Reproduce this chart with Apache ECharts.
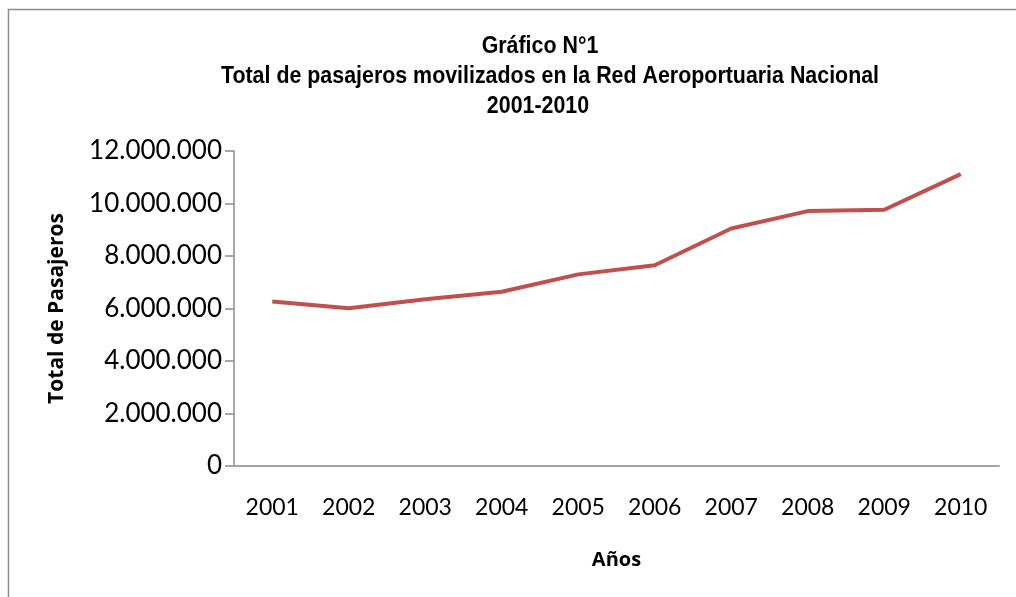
<!DOCTYPE html>
<html>
<head>
<meta charset="utf-8">
<script src="https://cdn.jsdelivr.net/npm/echarts@6/dist/echarts.min.js"></script>
<style>
html,body{margin:0;padding:0;background:#fff;}
#chart{width:1016px;height:597px;}
</style>
</head>
<body>
<div id="chart"></div>
<script>
const categories = ['2001','2002','2003','2004','2005','2006','2007','2008','2009','2010'];
const pasajeros = [6270000, 6010000, 6350000, 6640000, 7300000, 7650000, 9050000, 9710000, 9760000, 11120000];
const yTicks = [0, 2000000, 4000000, 6000000, 8000000, 10000000, 12000000];
const titleLines = ['Gráfico N°1', 'Total de pasajeros movilizados en la Red Aeroportuaria Nacional', '2001-2010'];

const fmt = v => String(v).replace(/\B(?=(\d{3})+(?!\d))/g, '.');
const titleFont = "bold 23px 'Liberation Sans', Arial, sans-serif";
const chart = echarts.init(document.getElementById('chart'));
chart.setOption({
  backgroundColor: '#ffffff',
  animation: false,
  graphic: [{
    type: 'rect', shape: {x: 8.5, y: 9.5, width: 1200, height: 800},
    style: {fill: 'none', stroke: '#8c8c8c', lineWidth: 1.5}, silent: true
  }].concat(titleLines.map((t, i) => ({
    type: 'text', x: [540, 550, 538][i], y: 47 + i * 30, scaleX: 0.93, silent: true,
    style: {text: t, font: titleFont, fill: '#000', textAlign: 'center', textVerticalAlign: 'middle'}
  }))),
  grid: {left: 234, right: 17, top: 151, bottom: 131},
  xAxis: {
    type: 'category', data: categories, boundaryGap: true,
    name: 'Años', nameLocation: 'middle', nameGap: 84,
    nameTextStyle: {fontFamily: "'Open Sans', sans-serif", fontWeight: 'bold', fontSize: 20, color: '#000'},
    axisLine: {lineStyle: {color: '#a6a6a6', width: 2}},
    axisTick: {show: false},
    axisLabel: {margin: 30, fontFamily: 'Lato, sans-serif', fontSize: 23, color: '#000'}
  },
  yAxis: {
    type: 'value', min: 0, max: 12000000, interval: 2000000,
    name: 'Total de Pasajeros', nameLocation: 'middle', nameGap: 166, nameRotate: 90,
    nameTextStyle: {fontFamily: "'Open Sans', sans-serif", fontWeight: 'bold', fontSize: 21, color: '#000'},
    axisLine: {show: true, lineStyle: {color: '#8c8c8c', width: 1.5}},
    axisTick: {show: true, length: 9, lineStyle: {color: '#8c8c8c', width: 1.5}},
    splitLine: {show: false},
    axisLabel: {margin: 12, fontFamily: 'Lato, sans-serif', fontSize: 26, color: '#000',
      formatter: v => fmt(v)}
  },
  series: [{
    type: 'line', data: pasajeros, symbol: 'none',
    lineStyle: {color: '#C0504D', width: 4}
  }]
});
</script>
</body>
</html>
